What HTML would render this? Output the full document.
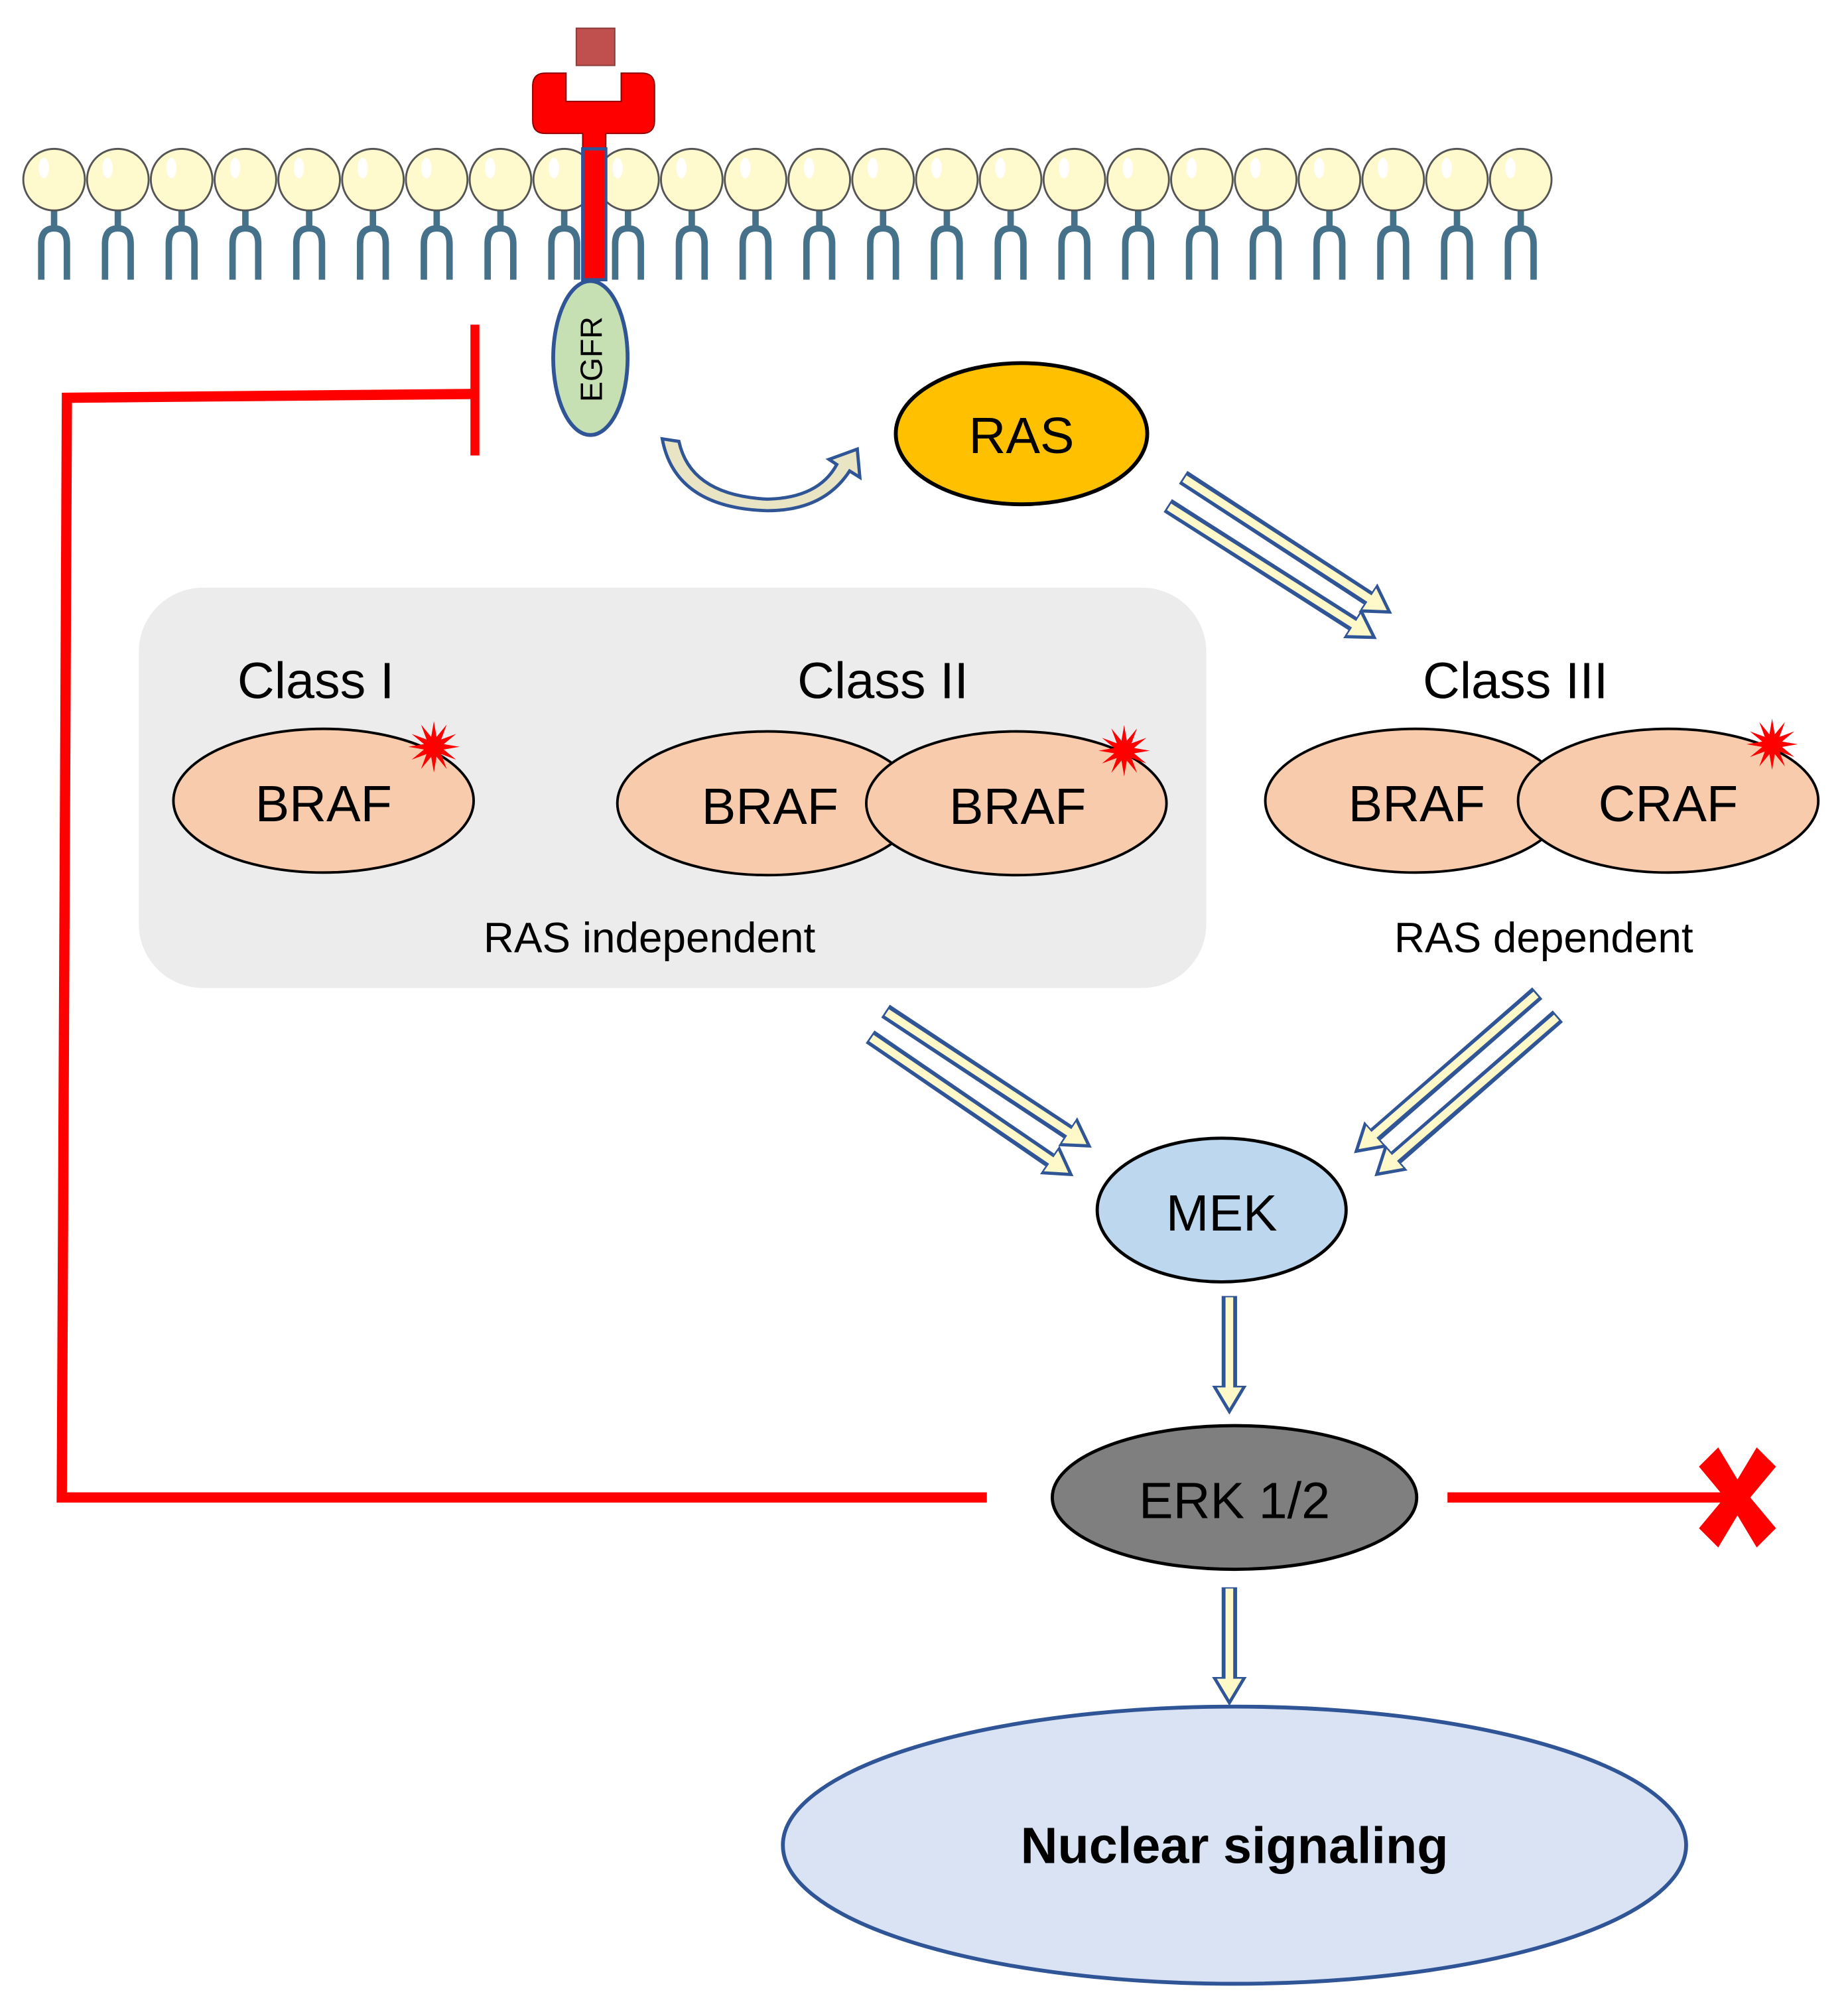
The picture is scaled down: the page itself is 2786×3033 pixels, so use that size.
<!DOCTYPE html>
<html><head><meta charset="utf-8"><style>
html,body{margin:0;padding:0;background:#fff}
svg{display:block}
text{font-family:"Liberation Sans",sans-serif}
</style></head><body>
<svg width="2786" height="3033" viewBox="0 0 1440 1568" xmlns="http://www.w3.org/2000/svg">
<defs>
<g id="lip">
<path d="M0,160 V180 M-10,218 V190 Q-10,178 0,178 Q10,178 10,190 V218" stroke="#46718b" stroke-width="5" fill="none"/>
<circle cx="0" cy="140" r="24" fill="#fffacd" stroke="#555" stroke-width="1.5"/>
<ellipse cx="-8" cy="131" rx="4" ry="8" fill="#fff"/>
</g>
<marker id="ah" markerUnits="userSpaceOnUse" markerWidth="40" markerHeight="40" refX="0" refY="20" orient="auto" viewBox="0 0 40 40">
<path d="M0,8 L20,20 L0,32 Z" fill="#fff8c8" stroke="#2f5597" stroke-width="2.5"/>
</marker>
<polygon id="star" fill="#f00" points="20,0 7.7,2.1 17.3,10 5.7,5.7 10,17.3 2.1,7.7 0,20 -2.1,7.7 -10,17.3 -5.7,5.7 -17.3,10 -7.7,2.1 -20,0 -7.7,-2.1 -17.3,-10 -5.7,-5.7 -10,-17.3 -2.1,-7.7 0,-20 2.1,-7.7 10,-17.3 5.7,-5.7 17.3,-10 7.7,-2.1"/>
</defs>

<use href="#lip" x="42"/><use href="#lip" x="91.7"/><use href="#lip" x="141.4"/><use href="#lip" x="191.1"/>
<use href="#lip" x="240.8"/><use href="#lip" x="290.5"/><use href="#lip" x="340.2"/><use href="#lip" x="389.9"/>
<use href="#lip" x="439.6"/><use href="#lip" x="489.3"/><use href="#lip" x="539"/><use href="#lip" x="588.7"/>
<use href="#lip" x="638.4"/><use href="#lip" x="688.1"/><use href="#lip" x="737.8"/><use href="#lip" x="787.5"/>
<use href="#lip" x="837.2"/><use href="#lip" x="886.9"/><use href="#lip" x="936.6"/><use href="#lip" x="986.3"/>
<use href="#lip" x="1036"/><use href="#lip" x="1085.7"/><use href="#lip" x="1135.4"/><use href="#lip" x="1185.1"/>

<rect x="449" y="22" width="30" height="29" fill="#c0504d" stroke="#8b3a38" stroke-width="1"/>
<path d="M425,57 H441 V79 H484 V57 H500 Q510,57 510,67 V94 Q510,104 500,104 H472 V218 H454 V104 H425 Q415,104 415,94 V67 Q415,57 425,57 Z" fill="#f00" stroke="#8b0000" stroke-width="1"/>
<rect x="454" y="116" width="18" height="102" fill="#f00" stroke="#2f5597" stroke-width="2.5"/>
<ellipse cx="460" cy="279" rx="29" ry="60" fill="#c6e0b4" stroke="#2f5597" stroke-width="3"/>
<text x="0" y="0" transform="translate(469,280) rotate(-90)" font-size="24" text-anchor="middle">EGFR</text>

<polyline points="370,307 52,310 48,1167 769,1167" fill="none" stroke="#f00" stroke-width="8"/>
<line x1="370" y1="253" x2="370" y2="355" stroke="#f00" stroke-width="7"/>

<path d="M516,342 L529,344 Q538,386 598,389 Q638,388 652,362 L646,358 L668,350 L670,372 L662,367 Q642,398 598,398 Q526,396 516,342 Z" fill="#e9e4c3" stroke="#2f5597" stroke-width="2.5"/>

<ellipse cx="796" cy="338" rx="98" ry="55" fill="#ffc000" stroke="#000" stroke-width="3"/>
<text x="796" y="353" font-size="40" text-anchor="middle">RAS</text>

<rect x="108" y="458" width="832" height="312" rx="50" fill="#ececec"/>

<g fill="none">
<g stroke="#2f5597" stroke-width="12" marker-end="url(#ah)">
<line x1="922" y1="372" x2="1066" y2="466"/>
<line x1="910" y1="394" x2="1054" y2="486"/>
<line x1="690" y1="788" x2="832" y2="882"/>
<line x1="678" y1="808" x2="818" y2="904"/>
<line x1="1198" y1="774" x2="1072" y2="884"/>
<line x1="1214" y1="792" x2="1088" y2="902"/>
<line x1="958" y1="1010" x2="958" y2="1080"/>
<line x1="958" y1="1237" x2="958" y2="1307"/>
</g>
<g stroke="#fff8c8" stroke-width="6">
<line x1="923" y1="373" x2="1068" y2="467"/>
<line x1="911" y1="395" x2="1056" y2="487"/>
<line x1="691" y1="789" x2="834" y2="883"/>
<line x1="679" y1="809" x2="820" y2="905"/>
<line x1="1197" y1="775" x2="1070" y2="885"/>
<line x1="1213" y1="793" x2="1086" y2="903"/>
<line x1="958" y1="1011" x2="958" y2="1082"/>
<line x1="958" y1="1238" x2="958" y2="1309"/>
</g>
</g>

<text x="246" y="544" font-size="40" text-anchor="middle">Class I</text>
<text x="688" y="544" font-size="40" text-anchor="middle">Class II</text>
<text x="1181" y="544" font-size="40" text-anchor="middle">Class III</text>

<g stroke="#000" stroke-width="2" fill="#f8cbad">
<ellipse cx="252" cy="624" rx="117" ry="56"/>
<ellipse cx="598" cy="626" rx="117" ry="56"/>
<ellipse cx="792" cy="626" rx="117" ry="56"/>
<ellipse cx="1103" cy="624" rx="117" ry="56"/>
<ellipse cx="1300" cy="624" rx="117" ry="56"/>
</g>
<g font-size="40" text-anchor="middle">
<text x="252" y="640">BRAF</text>
<text x="600" y="642">BRAF</text>
<text x="793" y="642">BRAF</text>
<text x="1104" y="640">BRAF</text>
<text x="1300" y="640">CRAF</text>
</g>
<use href="#star" x="338" y="582"/>
<use href="#star" x="876" y="585"/>
<use href="#star" x="1381" y="580"/>

<text x="506" y="742" font-size="33" text-anchor="middle">RAS independent</text>
<text x="1203" y="742" font-size="33" text-anchor="middle">RAS dependent</text>

<ellipse cx="952" cy="943" rx="97" ry="56" fill="#bdd7ee" stroke="#000" stroke-width="2.5"/>
<text x="952" y="959" font-size="40" text-anchor="middle">MEK</text>

<ellipse cx="962" cy="1167" rx="142" ry="56" fill="#7f7f7f" stroke="#000" stroke-width="2.5"/>
<text x="962" y="1183" font-size="40" text-anchor="middle">ERK 1/2</text>
<line x1="1128" y1="1167" x2="1360" y2="1167" stroke="#f00" stroke-width="8"/>
<path d="M1324,1143 L1339,1128 L1354,1153 L1369,1128 L1384,1143 L1364,1167 L1384,1191 L1369,1206 L1354,1181 L1339,1206 L1324,1191 L1344,1167 Z" fill="#f00"/>

<ellipse cx="962" cy="1438" rx="352" ry="108" fill="#dae3f3" stroke="#2f5597" stroke-width="3"/>
<text x="962" y="1452" font-size="40" font-weight="bold" text-anchor="middle">Nuclear signaling</text>
</svg>
</body></html>
